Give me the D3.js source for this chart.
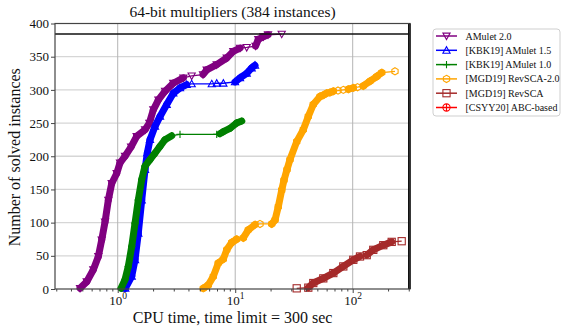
<!DOCTYPE html>
<html><head><meta charset="utf-8">
<script src="https://cdn.jsdelivr.net/npm/d3@7/dist/d3.min.js"></script>
<style>
body{margin:0;background:#fff}
svg{display:block}
text{font-family:"Liberation Serif","DejaVu Serif",serif;fill:#111}
</style>
</head><body>
<svg id="c" width="562" height="327"></svg>
<script>
// ---------- data ----------
const chartTitle = "64-bit multipliers (384 instances)";
const xLabel = "CPU time, time limit = 300 sec";
const yLabel = "Number of solved instances";
const totalInstances = 384;
const timeLimit = 300;
const yTicks = [0, 50, 100, 150, 200, 250, 300, 350, 400];
const xMajorTicks = [1, 10, 100];
const xTickExponents = ["0", "1", "2"];

const seriesNames = ["AMulet 2.0", "[KBK19] AMulet 1.5", "[KBK19] AMulet 1.0",
  "[MGD19] RevSCA-2.0", "[MGD19] RevSCA", "[CSYY20] ABC-based"];
const seriesColors = ["purple", "blue", "green", "orange", "brown", "red"];
const seriesMarkers = ["triDown", "triUp", "plus", "hex", "square", "circlePlus"];

const amulet20Time = [0.478, 0.545, 0.62, 0.684, 0.731, 0.78, 0.832, 0.889, 0.98, 1.046, 1.154, 1.30, 1.45, 1.71, 1.86, 2.01, 2.22, 2.53, 2.97, 3.62, 4.26, 5.32, 5.72, 6.96, 8.47, 9.63, 10.99, 12.53, 14.9, 15.73, 17.35, 19.02, 24.88];
const amulet20Solved = [1, 11, 29, 49, 74, 101, 134, 159, 174, 190, 200, 214, 230, 240, 250, 270, 285, 298, 310, 318, 321, 323, 330, 338, 348, 358, 363, 364, 366, 376, 380, 383, 384];

const amulet15Time = [1.16, 1.316, 1.404, 1.497, 1.601, 1.708, 1.786, 1.883, 2.077, 2.291, 2.612, 2.973, 3.39, 3.866, 4.26, 6.32, 6.96, 7.93, 9.96, 10.99, 12.53, 13.81, 14.74];
const amulet15Solved = [1, 19, 44, 84, 134, 180, 205, 225, 245, 260, 278, 295, 303, 308, 309, 309, 310, 310, 312, 318, 325, 333, 337];

const amulet10Time = [1.067, 1.154, 1.231, 1.316, 1.404, 1.497, 1.601, 1.708, 1.883, 2.06, 2.29, 2.527, 2.881, 3.39, 6.96, 7.4, 7.92, 9.03, 10.3, 11.36];
const amulet10Solved = [1, 14, 34, 64, 99, 134, 165, 185, 195, 204, 215, 225, 231, 233, 233, 234, 237, 242, 250, 253];

const revsca2Time = [5.35, 5.9, 6.51, 7.18, 7.92, 8.47, 9.34, 10.3, 11.72, 12.93, 14.74, 16.26, 20.45, 21.82, 23.27, 24.88, 26.02, 27.6, 29.27, 33.38, 37.98, 41.89, 46.2, 52.69, 56, 60.07, 64, 68.4, 75, 83.18, 92, 101.2, 110, 123.1, 140.4, 160.1, 176.6, 229.1];
const revsca2Solved = [1, 6, 19, 39, 45, 59, 70, 75, 77, 89, 97, 98, 98, 104, 124, 149, 164, 180, 195, 222, 240, 260, 278, 290, 292, 295, 296, 298, 299, 300, 301, 303, 304, 306, 313, 320, 326, 328];

const revscaTime = [33.38, 41.89, 46.2, 56.2, 68.4, 83.18, 101.2, 115.4, 131.6, 149.7, 182.1, 214.8, 261.2];
const revscaSolved = [1, 2, 9, 16, 24, 34, 44, 49, 51, 59, 66, 71, 72];

const abcTime = [];
const abcSolved = [];

const seriesTimes = [amulet20Time, amulet15Time, amulet10Time, revsca2Time, revscaTime, abcTime];
const seriesSolved = [amulet20Solved, amulet15Solved, amulet10Solved, revsca2Solved, revscaSolved, abcSolved];

// ---------- layout ----------
const svg = d3.select("#c");
const pL = 55, pR = 410, pT = 23.5, pB = 289;
const x = d3.scaleLog().domain([0.2926, 307.4]).range([pL, pR]);
const y = d3.scaleLinear().domain([0, 400]).range([pB, pT]);

// grid
const grid = svg.append("g");
grid.selectAll("line.h").data(yTicks.slice(1, -1)).join("line")
  .attr("x1", pL).attr("x2", pR).attr("y1", d => y(d)).attr("y2", d => y(d))
  .attr("stroke", "#d6d6d6").attr("stroke-width", 1.3);
grid.selectAll("line.v").data(xMajorTicks).join("line")
  .attr("y1", pT).attr("y2", pB).attr("x1", d => x(d)).attr("x2", d => x(d))
  .attr("stroke", "#b4b4b4").attr("stroke-width", 1);

// markers
function marker(g, kind, cx, cy, color) {
  const r = 3.6;
  if (kind === "triDown") {
    g.append("path").attr("d", `M${cx-r},${cy-r*0.8}L${cx+r},${cy-r*0.8}L${cx},${cy+r}Z`)
      .attr("fill", "none").attr("stroke", color).attr("stroke-width", 1.1);
  } else if (kind === "triUp") {
    g.append("path").attr("d", `M${cx-r},${cy+r*0.8}L${cx+r},${cy+r*0.8}L${cx},${cy-r}Z`)
      .attr("fill", "none").attr("stroke", color).attr("stroke-width", 1.1);
  } else if (kind === "plus") {
    g.append("path").attr("d", `M${cx-r},${cy}H${cx+r}M${cx},${cy-r}V${cy+r}`)
      .attr("fill", "none").attr("stroke", color).attr("stroke-width", 1.1);
  } else if (kind === "hex") {
    const pts = d3.range(6).map(i => {
      const a = Math.PI / 3 * i - Math.PI / 2;
      return [cx + r * Math.cos(a), cy + r * Math.sin(a)];
    });
    g.append("path").attr("d", "M" + pts.join("L") + "Z")
      .attr("fill", "none").attr("stroke", color).attr("stroke-width", 1.1);
  } else if (kind === "square") {
    g.append("rect").attr("x", cx - r).attr("y", cy - r).attr("width", 2 * r).attr("height", 2 * r)
      .attr("fill", "none").attr("stroke", color).attr("stroke-width", 1.1);
  } else {
    g.append("circle").attr("cx", cx).attr("cy", cy).attr("r", r)
      .attr("fill", "none").attr("stroke", color).attr("stroke-width", 1.1);
    g.append("path").attr("d", `M${cx-r},${cy}H${cx+r}M${cx},${cy-r}V${cy+r}`)
      .attr("stroke", color).attr("stroke-width", 1.1);
  }
}

// series
const plot = svg.append("g");
seriesNames.forEach((name, s) => {
  const times = seriesTimes[s], solved = seriesSolved[s];
  if (!times.length) return;
  const color = seriesColors[s];
  const g = plot.append("g");
  const pts = times.map((t, i) => [x(t), y(solved[i])]);
  g.append("path").attr("d", d3.line()(pts)).attr("fill", "none")
    .attr("stroke", color).attr("stroke-width", 1.3);
  for (let i = 1; i < pts.length; i++) {
    const dn = solved[i] - solved[i - 1];
    const len = Math.hypot(pts[i][0] - pts[i - 1][0], pts[i][1] - pts[i - 1][1]);
    if (dn > 0 && len / dn < 2.6) {
      g.append("line").attr("x1", pts[i - 1][0]).attr("y1", pts[i - 1][1])
        .attr("x2", pts[i][0]).attr("y2", pts[i][1])
        .attr("stroke", color).attr("stroke-width", 7).attr("stroke-linecap", "round");
    }
  }
  pts.forEach(p => marker(g, seriesMarkers[s], p[0], p[1], color));
});

// reference lines
svg.append("line").attr("x1", pL).attr("x2", pR).attr("y1", y(totalInstances)).attr("y2", y(totalInstances))
  .attr("stroke", "#111").attr("stroke-width", 1.5);
svg.append("line").attr("x1", x(timeLimit)).attr("x2", x(timeLimit)).attr("y1", pT).attr("y2", pB)
  .attr("stroke", "#111").attr("stroke-width", 1.5);

// spines
svg.append("rect").attr("x", pL).attr("y", pT).attr("width", pR - pL).attr("height", pB - pT)
  .attr("fill", "none").attr("stroke", "#444").attr("stroke-width", 1.2);
svg.append("line").attr("x1", pR).attr("x2", pR).attr("y1", pT).attr("y2", pB)
  .attr("stroke", "#222").attr("stroke-width", 1.6);

// axes
const yAxis = svg.append("g").attr("transform", `translate(${pL},0)`)
  .call(d3.axisLeft(y).tickValues(yTicks).tickSize(4).tickPadding(2).tickFormat(d3.format("d")));
yAxis.select(".domain").remove();
yAxis.selectAll("line").attr("stroke", "#444");
yAxis.selectAll("text").attr("font-size", 13).attr("font-family", "Liberation Serif").attr("fill", "#111");

const minor = [];
[0.1, 1, 10, 100].forEach(b => d3.range(2, 10).forEach(k => { const v = b * k; if (v > 0.2926 && v < 307.4) minor.push(v); }));
const xMinor = svg.append("g").attr("transform", `translate(0,${pB})`)
  .call(d3.axisBottom(x).tickValues(minor).tickSize(2.5).tickFormat(""));
xMinor.select(".domain").remove();
xMinor.selectAll("line").attr("stroke", "#444");

const xAxis = svg.append("g").attr("transform", `translate(0,${pB})`)
  .call(d3.axisBottom(x).tickValues(xMajorTicks).tickSize(4).tickPadding(3).tickFormat(() => ""));
xAxis.select(".domain").remove();
xAxis.selectAll("line").attr("stroke", "#444");
xAxis.selectAll(".tick text").each(function (d, i) {
  const t = d3.select(this).attr("font-size", 13).attr("font-family", "Liberation Serif").attr("fill", "#111");
  t.text("10");
  t.append("tspan").attr("dy", -6).attr("font-size", 9.5).text(xTickExponents[i]);
});

// labels
svg.append("text").attr("x", (pL + pR) / 2).attr("y", 17).attr("text-anchor", "middle")
  .attr("font-size", 15.5).text(chartTitle);
svg.append("text").attr("x", (pL + pR) / 2).attr("y", 323).attr("text-anchor", "middle")
  .attr("font-size", 16).text(xLabel);
svg.append("text").attr("transform", `translate(20,${(pT + pB) / 2 + 1}) rotate(-90)`)
  .attr("text-anchor", "middle").attr("font-size", 16).text(yLabel);

// legend
const lg = svg.append("g");
lg.append("rect").attr("x", 433).attr("y", 29).attr("width", 127).attr("height", 87).attr("rx", 3)
  .attr("fill", "#fff").attr("stroke", "#cfcfcf");
seriesNames.forEach((name, i) => {
  const cy = 36 + i * 14.3;
  lg.append("line").attr("x1", 436).attr("x2", 457).attr("y1", cy).attr("y2", cy)
    .attr("stroke", seriesColors[i]).attr("stroke-width", 1.5);
  marker(lg, seriesMarkers[i], 446.5, cy, seriesColors[i]);
  lg.append("text").attr("x", 465.5).attr("y", cy + 3.5).attr("font-size", 10).text(name);
});
</script>
</body></html>
